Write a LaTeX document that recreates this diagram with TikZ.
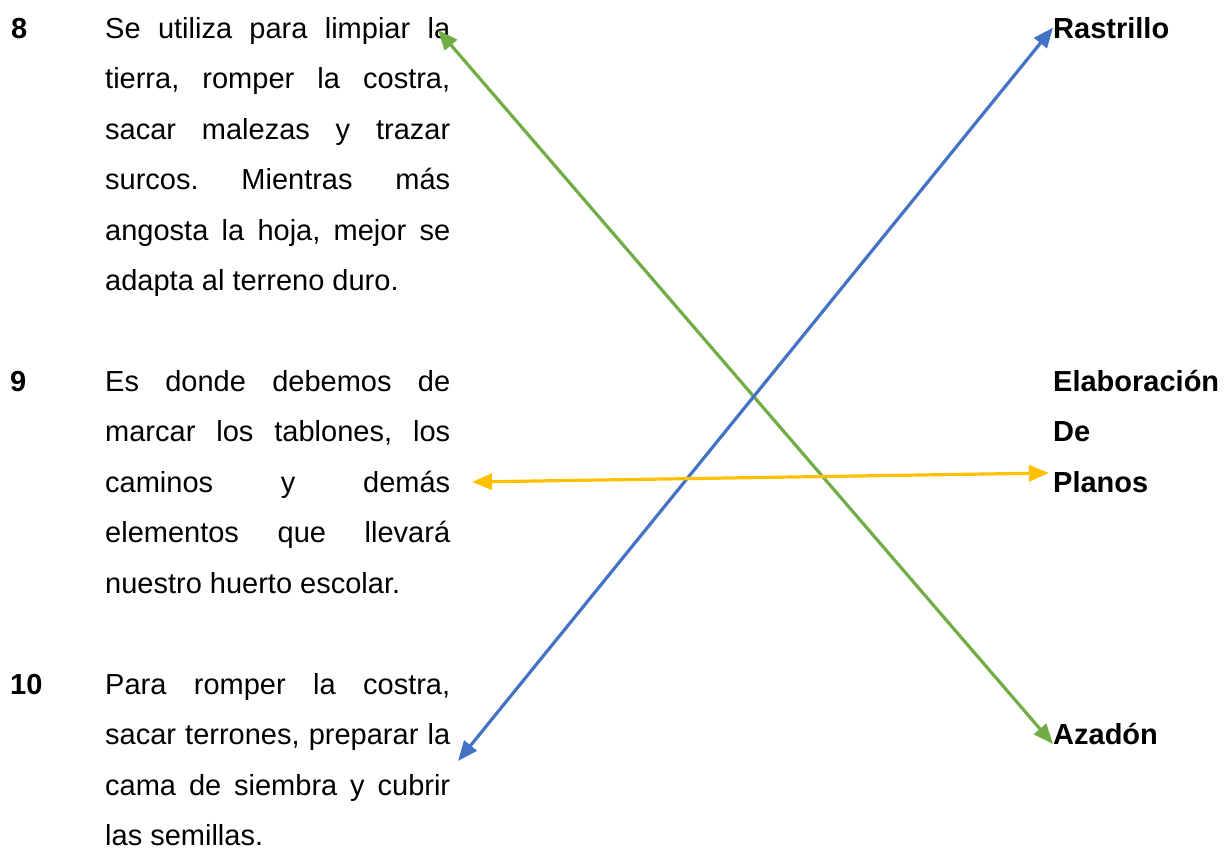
\documentclass[tikz,border=0pt]{standalone}
\usepackage{fontspec}
\setmainfont{Liberation Sans}
\usetikzlibrary{arrows.meta,positioning}

\definecolor{linkgreen}{RGB}{112,173,71}
\definecolor{linkblue}{RGB}{68,114,196}
\definecolor{linkgold}{RGB}{255,192,0}

\tikzset{
  txt/.style={font=\fontsize{29}{50.5}\selectfont\frenchspacing},
  num/.style={anchor=base west, font=\fontsize{29}{50.5}\selectfont\bfseries},
  desc/.style={anchor=base west, text width=345pt, align=justify, txt},
  tool/.style={anchor=base west, align=left, font=\fontsize{29}{50.5}\selectfont\bfseries},
  link/.style={<->, line width=3.2pt, >={Triangle[length=20pt,width=16pt]}}
}

\begin{document}
\begin{tikzpicture}[x=1pt, y=-1pt, inner sep=0pt]
  \useasboundingbox (0,0) rectangle (1225,851);

  % numbered descriptions
  \node[num] (n8) at (11,38) {8};
  \node[desc] (d8) at (105,38) {\tolerance=10000 Se utiliza para limpiar la\linebreak
    tierra, romper la costra,\linebreak sacar malezas y trazar\linebreak
    surcos. Mientras más\linebreak angosta la hoja, mejor se\linebreak
    adapta al terreno duro.};
  \node[num] (n9) at (10,391) {9};
  \node[desc] (d9) at (105,391) {\tolerance=10000 Es donde debemos de\linebreak
    marcar los tablones, los\linebreak caminos y demás\linebreak
    elementos que llevará\linebreak nuestro huerto escolar.};
  \node[num] (n10) at (10,694) {10};
  \node[desc] (d10) at (105,694) {\tolerance=10000 Para romper la costra,\linebreak
    sacar terrones, preparar la\linebreak cama de siembra y cubrir\linebreak
    las semillas.};

  % tools (base of a multi-line node is its last line)
  \node[tool] (rast) at (1053,38) {Rastrillo};
  \node[tool] (plan) at (1053,492) {Elaboración\\De\\Planos};
  \node[tool] (azad) at (1053,744) {Azadón};

  % arrow ends
  \coordinate (e8) at (438,30);
  \coordinate (e9) at (472,482);
  \coordinate (e10) at (458,761);
  \coordinate (eplan) at (1049,473);

  \draw[link, linkgreen] (e8) -- (azad.base west);
  \draw[link, linkblue] (e10) -- (rast.west);
  \draw[link, linkgold] (e9) -- (eplan);
\end{tikzpicture}
\end{document}
